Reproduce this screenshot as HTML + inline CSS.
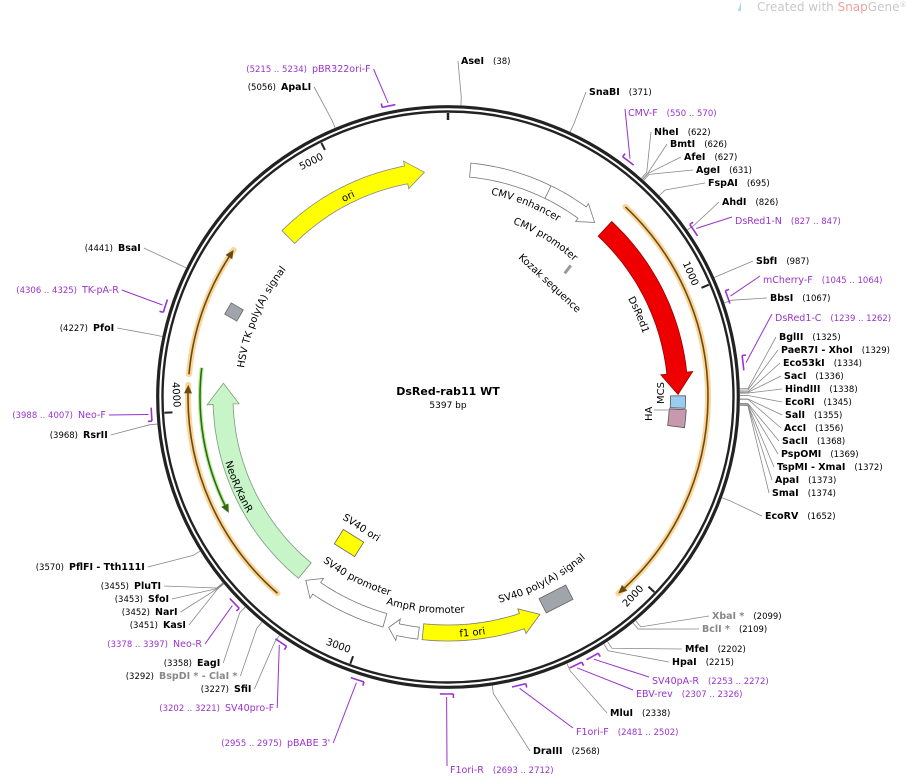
<!DOCTYPE html>
<html><head><meta charset="utf-8">
<style>
html,body{margin:0;padding:0;background:#fff;}
svg{display:block;font-family:"DejaVu Sans","Liberation Sans",sans-serif;}
</style></head>
<body>
<svg id="s" width="907" height="777" viewBox="0 0 907 777" xmlns="http://www.w3.org/2000/svg">
<text x="757" y="11" font-size="12" fill="#c8c8c8">Created with <tspan fill="#f0a0a0">Snap</tspan>Gene<tspan font-size="7" dy="-4">®</tspan></text>
<path d="M741 2 l-3 9 l3 0 z" fill="#a8d8f0"/>
<g id="g"></g>
</svg>
<script>
const NS="http://www.w3.org/2000/svg";
const g=document.getElementById('g');
const CX=448,CY=397,L=5397;
function ang(p){return p/L*2*Math.PI;}
function pt(r,p){const a=ang(p);return [CX+r*Math.sin(a),CY-r*Math.cos(a)];}
function el(t,a,parent){const e=document.createElementNS(NS,t);for(const k in a)e.setAttribute(k,a[k]);(parent||g).appendChild(e);return e;}
function arcPts(r,p1,p2,n){const o=[];n=n||40;for(let i=0;i<=n;i++){o.push(pt(r,p1+(p2-p1)*i/n));}return o;}
function arcD(r,p1,p2){const a=pt(r,p1),b=pt(r,p2);const large=Math.abs(p2-p1)/L>0.5?1:0;const sw=p2>p1?1:0;return `M${a[0]} ${a[1]} A${r} ${r} 0 ${large} ${sw} ${b[0]} ${b[1]}`;}
function poly(pts){return 'M'+pts.map(p=>p[0].toFixed(1)+' '+p[1].toFixed(1)).join(' L')+' Z';}
function arrow(r,w,p1,p2,fill,stroke,head,hw){
  head=head||60;hw=hw||5;const d=p2>p1?1:-1;const hb=p2-d*head;
  const outer=arcPts(r+w/2,p1,hb),inner=arcPts(r-w/2,hb,p1);
  const pts=outer.concat([pt(r+w/2+hw,hb),pt(r,p2),pt(r-w/2-hw,hb)]).concat(inner);
  el('path',{d:poly(pts),fill:fill,stroke:stroke,'stroke-width':0.8});
}
function box(r,w,p1,p2,fill){const pts=arcPts(r+w/2,p1,p2,6).concat(arcPts(r-w/2,p2,p1,6));el('path',{d:poly(pts),fill:fill,stroke:'#555','stroke-width':0.8});}
let pid=0;
function ptext(r,p1,p2,txt,size){
  const id='tp'+(pid++);el('path',{id:id,d:arcD(r,p1,p2),fill:'none'});
  const t=el('text',{'font-size':size||10,fill:'#000','text-anchor':'middle'});
  const tp=el('textPath',{href:'#'+id,startOffset:'50%'},t);tp.textContent=txt;
}
el('circle',{cx:CX,cy:CY,r:290.3,fill:'none',stroke:'#222','stroke-width':3.2});
el('circle',{cx:CX,cy:CY,r:285.5,fill:'none',stroke:'#222','stroke-width':2.4});
el('line',{x1:CX,y1:CY-284,x2:CX,y2:CY-277,stroke:'#222','stroke-width':2.5});
[[1000,1],[2000,-1],[3000,-1],[4000,-1],[5000,1]].forEach(([p,dir])=>{
  const a=pt(284,p),b=pt(276,p);el('line',{x1:a[0],y1:a[1],x2:b[0],y2:b[1],stroke:'#222','stroke-width':2});
  const c=pt(272,p+(dir>0?-55:55)*1);const th=p/L*360;const rot=dir>0?th:th-180;
  const t=el('text',{x:c[0],y:c[1],'font-size':10,'text-anchor':'middle','dominant-baseline':'middle',transform:`rotate(${rot} ${c[0]} ${c[1]})`});t.textContent=String(p);
});
function orange(p1,p2){
  el('path',{d:arcD(260,p1,p2),fill:'none',stroke:'#fbd59a','stroke-width':6,'stroke-linecap':'round'});
  const d=p2>p1?1:-1;el('path',{d:arcD(260,p1,p2-d*20),fill:'none',stroke:'#6b4a10','stroke-width':1.6});
  const tip=pt(260,p2),b1=pt(264,p2-d*28),b2=pt(256,p2-d*28);
  el('path',{d:`M${tip[0]} ${tip[1]} L${b1[0]} ${b1[1]} L${b2[0]} ${b2[1]} Z`,fill:'#6b4a10'});
}
orange(645,2085);orange(3313,4088);orange(4123,4564);
el('path',{d:arcD(248,4149,3650),fill:'none',stroke:'#b6ec9a','stroke-width':4});
el('path',{d:arcD(248,4149,3660),fill:'none',stroke:'#2f6a10','stroke-width':1.6});
{const tip=pt(248,3630),b1=pt(252,3660),b2=pt(244,3660);el('path',{d:`M${tip[0]} ${tip[1]} L${b1[0]} ${b1[1]} L${b2[0]} ${b2[1]} Z`,fill:'#2f6a10'});}
arrow(228,14,84,600,'#fff','#777',60,4);
{const a=pt(235,390),b=pt(221,390);el('line',{x1:a[0],y1:a[1],x2:b[0],y2:b[1],stroke:'#777','stroke-width':0.8});}
arrow(230,20,645,1340,'#ee0000','#900',80,6);
box(230,15,1345,1390,'#99ccf0');
box(230,17,1395,1460,'#c898b0');
arrow(225,20,3291,4100,'#c8f5c8','#7a9a7a',80,6);
arrow(226,18,4723,5307,'#ffff00','#888',70,5);
arrow(236,16,2790,2355,'#ffff00','#777',70,5);
arrow(232,14,2935,3265,'#fff','#777',50,5);
arrow(238,12,2805,2915,'#fff','#777',35,5);
function sqr(x,y,w,h,rot,fill){el('rect',{x:x-w/2,y:y-h/2,width:w,height:h,fill:fill,stroke:'#666','stroke-width':0.8,transform:`rotate(${rot} ${x} ${y})`});}
sqr(234,312,14,13,30,'#a0a4ab');
sqr(556,599,30,16,-27,'#a0a4ab');
sqr(349,543,24,17,32,'#ffff00');
{const a=pt(180,645),b=pt(170,650);el('line',{x1:a[0],y1:a[1],x2:b[0],y2:b[1],stroke:'#999','stroke-width':3});}
ptext(207,100,560,'CMV enhancer');
ptext(185,250,700,'CMV promoter');
ptext(205,700,1300,'DsRed1');
ptext(221,4850,5150,'ori',10);
ptext(206,4150,4640,'HSV TK poly(A) signal');
ptext(232,3950,3450,'NeoR/KanR');
ptext(207,3250,2950,'SV40 promoter');
ptext(216,2960,2620,'AmpR promoter');
ptext(212,2540,2040,'SV40 poly(A) signal');
ptext(240,2760,2460,'f1 ori');
function rt(x,y,rot,txt,size,extra){const t=el('text',Object.assign({x:x,y:y,'font-size':size||10,transform:`rotate(${rot} ${x} ${y})`},extra||{}));t.textContent=txt;return t;}
rt(518,258,43,'Kozak sequence');
rt(342,519,33,'SV40 ori');
rt(664,404,-90,'MCS');
rt(652,421,-90,'HA');
el('line',{x1:654,y1:410,x2:668,y2:410,stroke:'#888','stroke-width':0.8});
{const t=el('text',{x:448,y:395,'font-size':11,'font-weight':'bold','text-anchor':'middle'});t.textContent='DsRed-rab11 WT';
 const u=el('text',{x:448,y:408,'font-size':9,'text-anchor':'middle'});u.textContent='5397 bp';}
const E=[
[38,461,64,'AseI','(38)','R'],
[371,589,95,'SnaBI','(371)','R'],
[622,654,135,'NheI','(622)','R'],[626,670,147,'BmtI','(626)','R'],[627,684,160,'AfeI','(627)','R'],[631,696,173,'AgeI','(631)','R'],[695,708,186,'FspAI','(695)','R'],
[826,722,205,'AhdI','(826)','R'],[987,756,264,'SbfI','(987)','R'],[1067,770,301,'BbsI','(1067)','R'],
[1325,779,340,'BglII','(1325)','R'],[1329,781,353,'PaeR7I  - XhoI','(1329)','R'],[1334,783,366,'Eco53kI','(1334)','R'],[1336,784,379,'SacI','(1336)','R'],
[1338,785,392,'HindIII','(1338)','R'],[1345,785,405,'EcoRI','(1345)','R'],[1355,785,418,'SalI','(1355)','R'],[1356,784,431,'AccI','(1356)','R'],
[1368,782,444,'SacII','(1368)','R'],[1369,781,457,'PspOMI','(1369)','R'],[1372,777,470,'TspMI  - XmaI','(1372)','R'],[1373,775,483,'ApaI','(1373)','R'],[1374,772,496,'SmaI','(1374)','R'],
[1652,765,519,'EcoRV','(1652)','R'],
[2099,712,619,'XbaI *','(2099)','R','#888'],[2109,702,632,'BclI *','(2109)','R','#888'],[2202,685,652,'MfeI','(2202)','R'],[2215,672,665,'HpaI','(2215)','R'],
[2338,610,716,'MluI','(2338)','R'],[2568,533,754,'DraIII','(2568)','R'],
[5056,281,90,'ApaLI','(5056)','L'],[4441,118,251,'BsaI','(4441)','L'],[4227,93,331,'PfoI','(4227)','L'],[3968,83,438,'RsrII','(3968)','L'],
[3570,69,570,'PflFI  - Tth111I','(3570)','L'],[3455,134,589,'PluTI','(3455)','L'],[3453,148,602,'SfoI','(3453)','L'],[3452,155,615,'NarI','(3452)','L'],[3451,163,628,'KasI','(3451)','L'],
[3358,197,666,'EagI','(3358)','L'],[3292,159,679,'BspDI * - ClaI *','(3292)','L','#888'],[3227,234,692,'SfiI','(3227)','L']
];
E.forEach(([p,x,y,name,num,side,col])=>{
  col=col||'#000';
  const t=el('text',{x:x,y:y,'font-size':9.5,'font-weight':'bold',fill:col});t.textContent=name;
  const w=t.getComputedTextLength();
  let ax,ay;
  if(side==='R'){const n=el('text',{x:x+w+9,y:y,'font-size':8.5,fill:'#000'});n.textContent=num;ax=x-3;ay=y-3;}
  else{const n=el('text',{x:x-5,y:y,'font-size':8.5,fill:'#000','text-anchor':'end'});n.textContent=num;ax=x+w+3;ay=y-3;}
  const a=pt(292,p);const b=pt(300,p);
  el('path',{d:`M${a[0]} ${a[1]} L${b[0]} ${b[1]} L${ax} ${ay}`,fill:'none',stroke:'#888','stroke-width':0.8});
});
const P=[
[5215,5234,312,72,'pBR322ori-F','(5215 .. 5234)','L'],
[550,570,628,116,'CMV-F','(550 .. 570)','R'],
[827,847,735,224,'DsRed1-N','(827 .. 847)','R'],
[1045,1064,763,283,'mCherry-F','(1045 .. 1064)','R'],
[1239,1262,775,321,'DsRed1-C','(1239 .. 1262)','R'],
[2253,2272,652,684,'SV40pA-R','(2253 .. 2272)','R'],
[2307,2326,636,697,'EBV-rev','(2307 .. 2326)','R'],
[2481,2502,576,735,'F1ori-F','(2481 .. 2502)','R'],
[2693,2712,450,773,'F1ori-R','(2693 .. 2712)','R'],
[4306,4325,82,293,'TK-pA-R','(4306 .. 4325)','L'],
[3988,4007,78,418,'Neo-F','(3988 .. 4007)','L'],
[3378,3397,173,647,'Neo-R','(3378 .. 3397)','L'],
[3202,3221,225,711,'SV40pro-F','(3202 .. 3221)','L'],
[2955,2975,287,746,'pBABE 3\'','(2955 .. 2975)','L']
];
const PC='#9933cc';
P.forEach(([s,e,x,y,name,rng,side])=>{
  const t=el('text',{x:x,y:y,'font-size':9.5,fill:PC});t.textContent=name;
  const w=t.getComputedTextLength();
  let ax,ay;
  if(side==='R'){const n=el('text',{x:x+w+9,y:y,'font-size':8.5,fill:PC});n.textContent=rng;ax=x-3;ay=y-7;}
  else{const n=el('text',{x:x-5,y:y,'font-size':8.5,fill:PC,'text-anchor':'end'});n.textContent=rng;ax=x+w+3;ay=y-3;}
  el('path',{d:arcD(297,s-10,e+10),fill:'none',stroke:PC,'stroke-width':1.6});
  const a=pt(297,s-10),b=pt(301,s-10);el('line',{x1:a[0],y1:a[1],x2:b[0],y2:b[1],stroke:PC,'stroke-width':1.6});
  const m=pt(300,(s+e)/2);
  el('path',{d:`M${m[0]} ${m[1]} L${ax} ${ay}`,fill:'none',stroke:PC,'stroke-width':1});
});
</script>
</body></html>
